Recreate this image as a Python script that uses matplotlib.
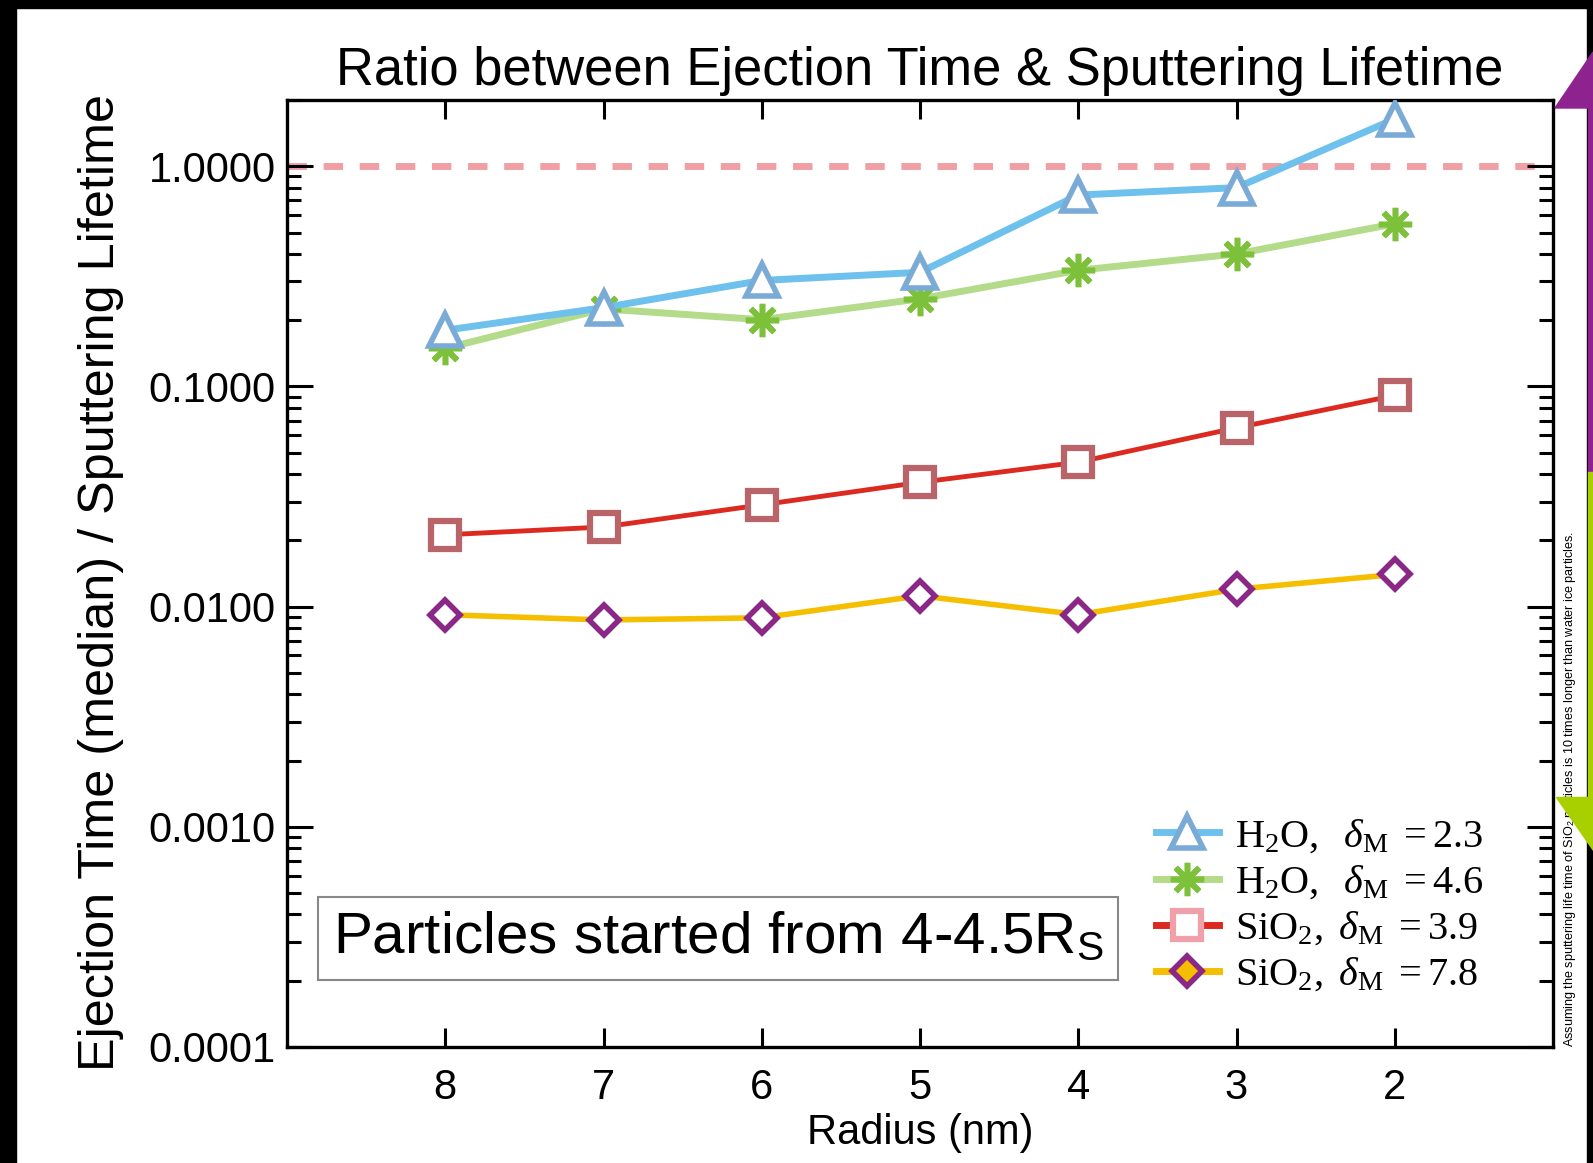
import matplotlib
matplotlib.use("Agg")
import matplotlib.pyplot as plt
from matplotlib.lines import Line2D
from matplotlib.patches import Polygon, Rectangle
from matplotlib.ticker import FixedLocator, FixedFormatter, LogLocator, NullFormatter

plt.rcParams['font.family'] = ['Liberation Sans', 'DejaVu Sans']
plt.rcParams['mathtext.fontset'] = 'custom'
plt.rcParams['mathtext.rm'] = 'Liberation Serif'
plt.rcParams['mathtext.it'] = 'Liberation Serif:italic'
plt.rcParams['mathtext.sf'] = 'Liberation Sans'

# Particle radius (nm) and ejection-time / sputtering-lifetime ratios
radius = [8, 7, 6, 5, 4, 3, 2]
h2o_23 = [0.180, 0.228, 0.303, 0.330, 0.740, 0.800, 1.640]
h2o_46 = [0.149, 0.225, 0.201, 0.250, 0.337, 0.400, 0.548]
sio2_39 = [0.0212, 0.0230, 0.0290, 0.0367, 0.0453, 0.0649, 0.0910]
sio2_78 = [0.00919, 0.00870, 0.00890, 0.01120, 0.00920, 0.01200, 0.01400]

series_labels = [r'$\mathrm{H_2O,}\ \ \delta_{\mathrm{M}}\ = 2.3$',
                 r'$\mathrm{H_2O,}\ \ \delta_{\mathrm{M}}\ = 4.6$',
                 r'$\mathrm{SiO_2,}\ \delta_{\mathrm{M}}\ = 3.9$',
                 r'$\mathrm{SiO_2,}\ \delta_{\mathrm{M}}\ = 7.8$']
x_ticks = [8, 7, 6, 5, 4, 3, 2]
y_ticks = [1e-4, 1e-3, 1e-2, 1e-1, 1.0]
y_tick_labels = ['0.0001', '0.0010', '0.0100', '0.1000', '1.0000']
reference_ratio = 1.0

W, H = 1593, 1163
fig = plt.figure(figsize=(W / 100, H / 100), dpi=100)
fig.patch.set_facecolor('white')


def fx(x):
    return x / W


def fy(y):
    return 1 - y / H


ax = fig.add_axes([fx(287), fy(1047), fx(1553) - fx(287), fy(100) - fy(1047)])
ax.set_yscale('log')
ax.set_xlim(9, 1)
ax.set_ylim(1e-4, 2.0)

blue_line, blue_edge = '#6EC1EC', '#7AAAD6'
green_line, green_mark = '#B3DB8A', '#7DC13A'
red_line, red_edge, red_leg = '#DC2A20', '#B86468', '#F0A0A8'
yellow_line, purple = '#F5BF00', '#8B2786'
star = (8, 2, 0)

ax.axhline(reference_ratio, color='#F0A0A5', lw=5, dashes=(2.8, 2.4),
           solid_capstyle='butt', dash_capstyle='butt', zorder=1)

ax.plot(radius, h2o_23, color=blue_line, lw=5, marker='^', ms=23,
        mfc='white', mec=blue_edge, mew=4, zorder=5)
ax.plot(radius, h2o_46, color=green_line, lw=5, marker=star, ms=24,
        mec=green_mark, mew=4, zorder=4)
ax.plot(radius, sio2_39, color=red_line, lw=3.5, marker='s', ms=20,
        mfc='white', mec=red_edge, mew=4.5, zorder=3)
ax.plot(radius, sio2_78, color=yellow_line, lw=4, marker='D', ms=15,
        mfc='white', mec=purple, mew=4, zorder=3)

# axes styling
for sp in ax.spines.values():
    sp.set_linewidth(2.4)
ax.xaxis.set_major_locator(FixedLocator(x_ticks))
ax.xaxis.set_major_formatter(FixedFormatter([str(v) for v in x_ticks]))
ax.yaxis.set_major_locator(FixedLocator(y_ticks))
ax.yaxis.set_major_formatter(FixedFormatter(y_tick_labels))
ax.yaxis.set_minor_locator(LogLocator(base=10, subs=range(2, 10)))
ax.yaxis.set_minor_formatter(NullFormatter())
ax.tick_params(axis='x', which='major', direction='in', top=True, bottom=True,
               length=13.5, width=2.2, labelsize=30, pad=15)
ax.tick_params(axis='y', which='major', direction='in', left=True, right=True,
               length=19, width=2.2, labelsize=30, pad=8)
ax.tick_params(axis='y', which='minor', direction='in', left=True, right=True,
               length=10, width=2.2)

ax.set_title('Ratio between Ejection Time & Sputtering Lifetime', fontsize=37.8, pad=11)
ax.set_xlabel('Radius (nm)', fontsize=30, labelpad=4)
ax.set_ylabel('Ejection Time (median) / Sputtering Lifetime', fontsize=36.3,
              labelpad=18, y=0.491)

# legend
handles = [
    Line2D([], [], color=blue_line, lw=5, marker='^', ms=23, mfc='white', mec=blue_edge, mew=4),
    Line2D([], [], color=green_line, lw=5, marker=star, ms=24, mec=green_mark, mew=4),
    Line2D([], [], color=red_line, lw=5, marker='s', ms=20, mfc='white', mec=red_leg, mew=4.5),
    Line2D([], [], color=yellow_line, lw=5, marker='D', ms=15, mfc=yellow_line, mec=purple, mew=4),
]
leg = ax.legend(handles, series_labels, loc='lower right',
                bbox_to_anchor=(0.945, 0.056), frameon=False,
                prop={'family': 'Liberation Serif', 'size': 29},
                handlelength=1.55, handletextpad=0.4, labelspacing=0.21,
                borderpad=0, borderaxespad=0)

ax.text(0.3405, 0.1146, r'Particles started from 4-4.5R$_\mathsf{S}$',
        transform=ax.transAxes, ha='center', va='center', fontsize=42,
        bbox=dict(boxstyle='square,pad=0.25', fc='white', ec='#888888', lw=1.5))

fig.text(fx(1570), fy(1047),
         r'Assuming the sputtering life time of SiO$_\mathsf{2}$ particles is 10 times longer than water ice particles.',
         rotation=90, ha='center', va='bottom', fontsize=9.1)

# frame decorations around the figure
fig.patches.append(Rectangle((0, fy(8)), 1, fy(0) - fy(8), transform=fig.transFigure,
                             color='black', zorder=10))
fig.patches.append(Rectangle((0, 0), fx(16), 1, transform=fig.transFigure,
                             color='black', zorder=10))
fig.patches.append(Rectangle((fx(1587), 0), 1 - fx(1587), 1, transform=fig.transFigure,
                             color='black', zorder=10))
fig.patches.append(Polygon([(fx(1555), fy(108)), (fx(1593), fy(52)), (fx(1593), fy(108))],
                           closed=True, transform=fig.transFigure, color='#8E2390', zorder=11))
fig.patches.append(Rectangle((fx(1588), fy(472)), 1 - fx(1588), fy(108) - fy(472),
                             transform=fig.transFigure, color='#8E2390', zorder=11))
fig.patches.append(Rectangle((fx(1588), fy(797)), 1 - fx(1588), fy(472) - fy(797),
                             transform=fig.transFigure, color='#A8D000', zorder=11))
fig.patches.append(Polygon([(fx(1556), fy(797)), (fx(1593), fy(797)), (fx(1593), fy(850))],
                           closed=True, transform=fig.transFigure, color='#A8D000', zorder=11))

fig.savefig('out.png', dpi=100)
